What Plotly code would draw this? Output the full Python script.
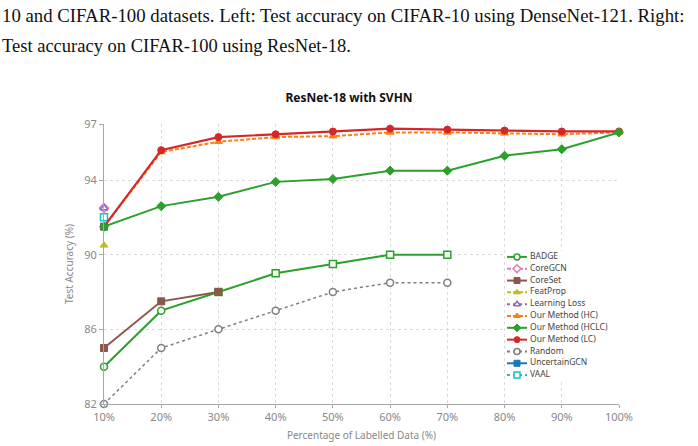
import plotly.graph_objects as go

# ---------------- data ----------------
labelled_pct = [10, 20, 30, 40, 50, 60, 70, 80, 90, 100]
x_tick_text = ["10%", "20%", "30%", "40%", "50%", "60%", "70%", "80%", "90%", "100%"]
y_tick_vals = [82, 86, 90, 94, 97]

badge = [84.0, 87.0, 88.0, 89.0, 89.5, 90.0, 90.0]
coregcn = [92.5]
coreset = [85.0, 87.5, 88.0]
featprop = [90.5]
learning_loss = [92.5]
ours_hc = [91.5, 95.5, 96.05, 96.3, 96.35, 96.55, 96.55, 96.5, 96.45, 96.55]
ours_hclc = [91.5, 92.6, 93.1, 93.9, 94.05, 94.5, 94.5, 95.3, 95.65, 96.55]
ours_lc = [91.5, 95.6, 96.3, 96.45, 96.6, 96.75, 96.7, 96.65, 96.6, 96.6]
random_sel = [82.0, 85.0, 86.0, 87.0, 88.0, 88.5, 88.5]
uncertaingcn = [91.5]
vaal = [92.0]

legend_order = ["BADGE", "CoreGCN", "CoreSet", "FeatProp", "Learning Loss",
                "Our Method (HC)", "Our Method (HCLC)", "Our Method (LC)",
                "Random", "UncertainGCN", "VAAL"]

# ---------------- styles ----------------
DASH = "4px,2px"
styles = {
    "BADGE":            dict(y=badge, color="#2ca02c", dash="solid", symbol="circle", filled=False, width=2),
    "CoreGCN":          dict(y=coregcn, color="#e377c2", dash=DASH, symbol="diamond", filled=False, width=1.5),
    "CoreSet":          dict(y=coreset, color="#8c564b", dash="solid", symbol="square", filled=True, width=2),
    "FeatProp":         dict(y=featprop, color="#bcbd22", dash=DASH, symbol="triangle-up", filled=True, width=1.5),
    "Learning Loss":    dict(y=learning_loss, color="#9467bd", dash="dot", symbol="triangle-up", filled=False, width=1.5),
    "Our Method (HC)":  dict(y=ours_hc, color="#ff7f0e", dash=DASH, symbol="triangle-up", filled=True, width=2),
    "Our Method (HCLC)": dict(y=ours_hclc, color="#2ca02c", dash="solid", symbol="diamond", filled=True, width=2),
    "Our Method (LC)":  dict(y=ours_lc, color="#d62728", dash="solid", symbol="circle", filled=True, width=2.2),
    "Random":           dict(y=random_sel, color="#7f7f7f", dash="dot", symbol="circle", filled=False, width=1.5),
    "UncertainGCN":     dict(y=uncertaingcn, color="#1f77b4", dash="solid", symbol="square", filled=True, width=2),
    "VAAL":             dict(y=vaal, color="#17becf", dash="dot", symbol="square", filled=False, width=1.5),
}
badge_symbols = ["circle", "circle", "square", "square", "square", "square", "square"]

draw_order = ["Random", "BADGE", "CoreSet", "UncertainGCN", "FeatProp", "VAAL",
              "CoreGCN", "Learning Loss", "Our Method (HC)", "Our Method (LC)",
              "Our Method (HCLC)"]

def marker_for(st, size=7, symbol=None):
    sym = symbol if symbol is not None else st["symbol"]
    if st["filled"]:
        return dict(symbol=sym, size=size, color=st["color"],
                    line=dict(color=st["color"], width=1))
    return dict(symbol=sym, size=size, color="white",
                line=dict(color=st["color"], width=1.5))

fig = go.Figure()

for name in draw_order:
    st = styles[name]
    ys = st["y"]
    xs = labelled_pct[:len(ys)]
    sym = badge_symbols if name == "BADGE" else None
    fig.add_trace(go.Scatter(
        x=xs, y=ys, name=name, mode="lines+markers",
        line=dict(color=st["color"], width=st["width"], dash=st["dash"]),
        marker=marker_for(st, 7, sym), cliponaxis=False, showlegend=False,
        hoverinfo="skip"))

# ---------------- custom compact legend ----------------
for i, name in enumerate(legend_order):
    st = styles[name]
    fig.add_trace(go.Scatter(
        x=[2, 12, 22], y=[i, i, i], mode="lines", xaxis="x2", yaxis="y2",
        line=dict(color=st["color"], width=2, dash=st["dash"]),
        showlegend=False, hoverinfo="skip"))
    fig.add_trace(go.Scatter(
        x=[12], y=[i], mode="markers", xaxis="x2", yaxis="y2",
        marker=marker_for(st, 6), showlegend=False, hoverinfo="skip"))
    fig.add_trace(go.Scatter(
        x=[25], y=[i], mode="text", text=[name], textposition="middle right",
        textfont=dict(size=8.5, color="#444", family="Noto Sans"),
        xaxis="x2", yaxis="y2", showlegend=False, hoverinfo="skip"))

W, H = 698, 446
L, R, T, B = 104, 79, 124, 42
pw, ph = W - L - R, H - T - B

def px_x(px):
    return (px - L) / pw

def px_y(py):
    return (H - B - py) / ph

axis_font = dict(family="Noto Sans", size=11, color="#888")

fig.update_layout(
    width=W, height=H,
    margin=dict(l=L, r=R, t=T, b=B, autoexpand=False),
    plot_bgcolor="white", paper_bgcolor="white",
    font=dict(family="Noto Sans", color="#444"),
    title=dict(text="<b>ResNet-18 with SVHN</b>", x=0.5, xref="container",
               xanchor="center", y=1 - 98 / H, yref="container", yanchor="middle",
               font=dict(family="Noto Sans", size=12, color="#111")),
    xaxis=dict(range=[10, 100], tickvals=labelled_pct, ticktext=x_tick_text,
               showline=True, linecolor="#a8a8a8", linewidth=1,
               ticks="outside", ticklen=3, tickcolor="#a8a8a8",
               showgrid=True, gridcolor="#dcdcdc", griddash="dot",
               zeroline=False, tickfont=axis_font, automargin=False,
               title=dict(text="Percentage of Labelled Data (%)", standoff=8,
                          font=dict(family="Noto Sans", size=10, color="#888"))),
    yaxis=dict(range=[82, 97], tickvals=y_tick_vals,
               showline=True, linecolor="#a8a8a8", linewidth=1,
               ticks="outside", ticklen=4, tickcolor="#a8a8a8",
               showgrid=True, gridcolor="#dcdcdc", griddash="dot",
               zeroline=False, tickfont=axis_font, automargin=False,
               title=dict(text="Test Accuracy (%)", standoff=8,
                          font=dict(family="Noto Sans", size=10, color="#888"))),
    xaxis2=dict(domain=[px_x(505), 1.0], range=[0, 114], visible=False,
                anchor="y2", fixedrange=True),
    yaxis2=dict(domain=[px_y(381), px_y(251)], range=[10.5, -0.5], visible=False,
                anchor="x2", fixedrange=True),
    annotations=[
        dict(text="10 and CIFAR-100 datasets. Left: Test accuracy on CIFAR-10 using DenseNet-121. Right:",
             xref="paper", yref="paper", x=px_x(0), y=px_y(15), xanchor="left",
             yanchor="middle", showarrow=False,
             font=dict(family="Liberation Serif", size=18.8, color="#111")),
        dict(text="Test accuracy on CIFAR-100 using ResNet-18.",
             xref="paper", yref="paper", x=px_x(0), y=px_y(46), xanchor="left",
             yanchor="middle", showarrow=False,
             font=dict(family="Liberation Serif", size=18.5, color="#111")),
    ],
)

fig.write_html("out.html")
